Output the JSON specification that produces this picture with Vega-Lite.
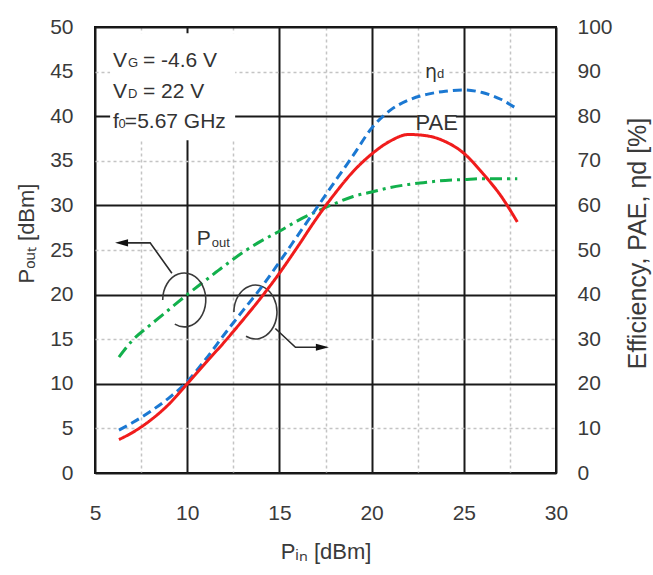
{
  "$schema": "https://vega.github.io/schema/vega-lite/v6.json",
  "width": 461,
  "height": 446,
  "autosize": "none",
  "padding": {"left": 95, "top": 27, "right": 97, "bottom": 102},
  "background": "white",
  "config": {
    "view": {"stroke": "#111", "strokeWidth": 2},
    "font": "Liberation Sans",
    "axis": {
      "domain": false,
      "ticks": false,
      "labelFont": "Liberation Sans",
      "labelFontSize": 21,
      "labelColor": "#3a3a3a",
      "titleFont": "Liberation Sans",
      "titleFontSize": 22,
      "titleFontWeight": "normal",
      "titleColor": "#3a3a3a",
      "labelFlush": false,
      "labelOverlap": false
    }
  },
  "datasets": {
    "pout": [
      {"x": 6.3, "y": 13.0}, {"x": 7, "y": 14.8}, {"x": 8, "y": 16.6}, {"x": 9, "y": 18.3},
      {"x": 10, "y": 20.0}, {"x": 11, "y": 21.6}, {"x": 12, "y": 23.2}, {"x": 13, "y": 24.7},
      {"x": 14, "y": 26.0}, {"x": 15, "y": 27.1}, {"x": 16, "y": 28.3}, {"x": 17, "y": 29.3},
      {"x": 18, "y": 30.2}, {"x": 19, "y": 31.0}, {"x": 20, "y": 31.5}, {"x": 21, "y": 32.0},
      {"x": 22, "y": 32.35}, {"x": 23, "y": 32.6}, {"x": 24, "y": 32.8}, {"x": 25, "y": 32.9},
      {"x": 26, "y": 33.0}, {"x": 27, "y": 33.0}, {"x": 27.9, "y": 33.0}
    ],
    "eff": [
      {"s": "ηd", "x": 6.3, "y": 9.6}, {"s": "ηd", "x": 7, "y": 11.2}, {"s": "ηd", "x": 8, "y": 13.8},
      {"s": "ηd", "x": 9, "y": 16.8}, {"s": "ηd", "x": 10, "y": 20.5}, {"s": "ηd", "x": 11, "y": 25.5},
      {"s": "ηd", "x": 12, "y": 31.0}, {"s": "ηd", "x": 13, "y": 36.3}, {"s": "ηd", "x": 14, "y": 41.5},
      {"s": "ηd", "x": 15, "y": 47.3}, {"s": "ηd", "x": 16, "y": 53.3}, {"s": "ηd", "x": 17, "y": 59.3},
      {"s": "ηd", "x": 18, "y": 65.3}, {"s": "ηd", "x": 19, "y": 71.2}, {"s": "ηd", "x": 20, "y": 77.3},
      {"s": "ηd", "x": 21, "y": 81.3}, {"s": "ηd", "x": 22, "y": 83.6}, {"s": "ηd", "x": 23, "y": 84.9},
      {"s": "ηd", "x": 24, "y": 85.6}, {"s": "ηd", "x": 25, "y": 85.9}, {"s": "ηd", "x": 26, "y": 85.3},
      {"s": "ηd", "x": 27, "y": 83.8}, {"s": "ηd", "x": 27.9, "y": 81.6},
      {"s": "PAE", "x": 6.3, "y": 7.5}, {"s": "PAE", "x": 7, "y": 9.0}, {"s": "PAE", "x": 8, "y": 11.8},
      {"s": "PAE", "x": 9, "y": 15.4}, {"s": "PAE", "x": 10, "y": 20.0}, {"s": "PAE", "x": 11, "y": 24.7},
      {"s": "PAE", "x": 12, "y": 29.3}, {"s": "PAE", "x": 13, "y": 34.2}, {"s": "PAE", "x": 14, "y": 39.3},
      {"s": "PAE", "x": 15, "y": 44.8}, {"s": "PAE", "x": 16, "y": 50.8}, {"s": "PAE", "x": 17, "y": 57.0},
      {"s": "PAE", "x": 18, "y": 62.6}, {"s": "PAE", "x": 19, "y": 67.6}, {"s": "PAE", "x": 20, "y": 71.5},
      {"s": "PAE", "x": 21, "y": 74.4}, {"s": "PAE", "x": 22, "y": 75.9}, {"s": "PAE", "x": 23, "y": 75.6},
      {"s": "PAE", "x": 24, "y": 74.3}, {"s": "PAE", "x": 25, "y": 71.7}, {"s": "PAE", "x": 26, "y": 67.3},
      {"s": "PAE", "x": 27, "y": 62.2}, {"s": "PAE", "x": 27.9, "y": 56.3}
    ],
    "boxes": [
      {"x1": 5.82, "x2": 12.6, "y1": 37.3, "y2": 49.3},
      {"x1": 22.5, "x2": 24.57, "y1": 38.6, "y2": 41.0},
      {"x1": 22.7, "x2": 24.1, "y1": 44.2, "y2": 45.7}
    ],
    "textMain": [
      {"x": 5.976, "y": 45.55, "t": "V"}, {"x": 7.6, "y": 45.55, "t": "= -4.6 V"},
      {"x": 5.976, "y": 42.0, "t": "V"}, {"x": 7.6, "y": 42.0, "t": "= 22 V"},
      {"x": 5.976, "y": 38.64, "t": "f"}, {"x": 6.62, "y": 38.64, "t": "=5.67 GHz"},
      {"x": 10.52, "y": 25.56, "t": "P"}
    ],
    "textSub": [
      {"x": 6.79, "y": 45.55, "t": "G"}, {"x": 6.79, "y": 42.0, "t": "D"},
      {"x": 6.27, "y": 38.64, "t": "0"}, {"x": 11.33, "y": 25.3, "t": "out"},
      {"x": 23.55, "y": 44.3, "t": "d"}
    ],
    "eta": [{"x": 22.9, "y": 44.3, "t": "η"}],
    "pae": [{"x": 23.53, "y": 38.5, "t": "PAE"}],
    "loops": [{"x": 9.84, "y": 19.4}, {"x": 13.7, "y": 18.05}],
    "arrows": [
      {"id": "a1", "o": 1, "x": 9.17, "y": 22.4}, {"id": "a1", "o": 2, "x": 7.99, "y": 25.8}, {"id": "a1", "o": 3, "x": 6.5, "y": 25.8},
      {"id": "a2", "o": 1, "x": 14.78, "y": 16.2}, {"id": "a2", "o": 2, "x": 15.87, "y": 14.1}, {"id": "a2", "o": 3, "x": 17.3, "y": 14.1}
    ],
    "heads": [{"x": 6.44, "y": 25.8, "dir": "left"}, {"x": 17.33, "y": 14.1, "dir": "right"}]
  },
  "layer": [
    {
      "layer": [
        {
          "data": {"name": "boxes"},
          "mark": {"type": "rect", "color": "white"},
          "encoding": {
            "x": {
              "field": "x1", "type": "quantitative",
              "scale": {"domain": [5, 30], "nice": false, "zero": false},
              "axis": {
                "title": "Pᵢₙ [dBm]",
                "values": [5, 7.5, 10, 12.5, 15, 17.5, 20, 22.5, 25, 27.5, 30],
                "labelExpr": "datum.value % 5 === 0 ? datum.label : ''",
                "grid": true,
                "gridColor": {"condition": {"test": "datum.value % 5 === 0", "value": "#1a1a1a"}, "value": "#c4c4c4"},
                "gridDash": {"condition": {"test": "datum.value % 5 === 0", "value": []}, "value": [3, 3]},
                "gridWidth": {"condition": {"test": "datum.value % 5 === 0", "value": 2}, "value": 1.5},
                "labelPadding": 29,
                "titleY": 85,
                "titleBaseline": "alphabetic"
              }
            },
            "x2": {"field": "x2"},
            "y": {
              "field": "y1", "type": "quantitative",
              "scale": {"domain": [0, 50], "nice": false, "zero": false},
              "axis": {
                "title": "Pₒᵤₜ [dBm]",
                "values": [0, 5, 10, 15, 20, 25, 30, 35, 40, 45, 50],
                "grid": true,
                "gridColor": {"condition": {"test": "datum.value % 10 === 0", "value": "#1a1a1a"}, "value": "#c4c4c4"},
                "gridDash": {"condition": {"test": "datum.value % 10 === 0", "value": []}, "value": [3, 3]},
                "gridWidth": {"condition": {"test": "datum.value % 10 === 0", "value": 2}, "value": 1.5},
                "labelPadding": 22,
                "titleAngle": 270,
                "titleX": -62,
                "titleY": 206,
                "titleBaseline": "alphabetic"
              }
            },
            "y2": {"field": "y2"}
          }
        },
        {
          "data": {"name": "pout"},
          "mark": {"type": "line", "color": "#12b04c", "strokeWidth": 3, "strokeDash": [12, 5, 3, 5], "interpolate": "monotone"},
          "encoding": {
            "x": {"field": "x", "type": "quantitative"},
            "y": {"field": "y", "type": "quantitative"}
          }
        },
        {
          "data": {"name": "loops"},
          "mark": {"type": "point", "shape": "M-0.8,0 A0.8,1 0 1,1 -0.35,0.9", "size": 2900, "filled": false, "stroke": "#3a3a3a", "strokeWidth": 1.6, "opacity": 1},
          "encoding": {
            "x": {"field": "x", "type": "quantitative"},
            "y": {"field": "y", "type": "quantitative"}
          }
        },
        {
          "data": {"name": "arrows"},
          "mark": {"type": "line", "color": "#2a2a2a", "strokeWidth": 1.6},
          "encoding": {
            "x": {"field": "x", "type": "quantitative"},
            "y": {"field": "y", "type": "quantitative"},
            "detail": {"field": "id"},
            "order": {"field": "o"}
          }
        },
        {
          "data": {"name": "heads"},
          "mark": {"type": "point", "filled": true, "color": "#111", "size": 169, "opacity": 1},
          "encoding": {
            "x": {"field": "x", "type": "quantitative"},
            "y": {"field": "y", "type": "quantitative"},
            "shape": {"field": "dir", "type": "nominal", "scale": {"domain": ["left", "right"], "range": ["M-1,0 L1,-0.55 L1,0.55 Z", "M1,0 L-1,-0.55 L-1,0.55 Z"]}, "legend": null}
          }
        },
        {
          "data": {"name": "textMain"},
          "mark": {"type": "text", "align": "left", "baseline": "alphabetic", "fontSize": 21, "color": "#333", "font": "Liberation Sans"},
          "encoding": {
            "x": {"field": "x", "type": "quantitative"},
            "y": {"field": "y", "type": "quantitative"},
            "text": {"field": "t"}
          }
        },
        {
          "data": {"name": "textSub"},
          "mark": {"type": "text", "align": "left", "baseline": "alphabetic", "fontSize": 13, "color": "#333", "font": "Liberation Sans"},
          "encoding": {
            "x": {"field": "x", "type": "quantitative"},
            "y": {"field": "y", "type": "quantitative"},
            "text": {"field": "t"}
          }
        },
        {
          "data": {"name": "eta"},
          "mark": {"type": "text", "align": "left", "baseline": "alphabetic", "fontSize": 19, "color": "#333", "font": "DejaVu Sans"},
          "encoding": {
            "x": {"field": "x", "type": "quantitative"},
            "y": {"field": "y", "type": "quantitative"},
            "text": {"field": "t"}
          }
        },
        {
          "data": {"name": "pae"},
          "mark": {"type": "text", "align": "center", "baseline": "alphabetic", "fontSize": 22, "color": "#333", "font": "Liberation Sans"},
          "encoding": {
            "x": {"field": "x", "type": "quantitative"},
            "y": {"field": "y", "type": "quantitative"},
            "text": {"field": "t"}
          }
        }
      ]
    },
    {
      "data": {"name": "eff"},
      "mark": {"type": "line", "strokeWidth": 3, "interpolate": "monotone"},
      "encoding": {
        "x": {"field": "x", "type": "quantitative"},
        "y": {
          "field": "y", "type": "quantitative",
          "scale": {"domain": [0, 100], "nice": false, "zero": false},
          "axis": {
            "orient": "right",
            "title": "Efficiency, PAE, ηd [%]",
            "titleFontSize": 25,
            "values": [0, 10, 20, 30, 40, 50, 60, 70, 80, 90, 100],
            "grid": false,
            "labelPadding": 21,
            "titleAngle": 270,
            "titleX": 89,
            "titleY": 216,
            "titleBaseline": "alphabetic"
          }
        },
        "color": {"field": "s", "type": "nominal", "scale": {"domain": ["ηd", "PAE"], "range": ["#1b78d2", "#f01c1c"]}, "legend": null},
        "strokeDash": {"field": "s", "type": "nominal", "scale": {"domain": ["ηd", "PAE"], "range": [[9, 5], [1, 0]]}, "legend": null}
      }
    }
  ],
  "resolve": {"scale": {"y": "independent"}}
}
